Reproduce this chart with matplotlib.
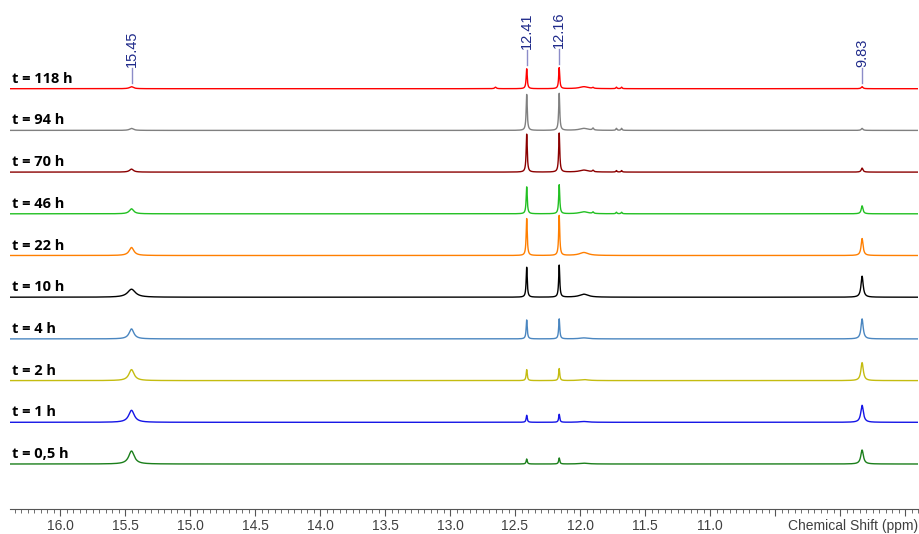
import numpy as np
import matplotlib
matplotlib.use("Agg")
import matplotlib.pyplot as plt
from matplotlib.ticker import MultipleLocator, FixedLocator, FixedFormatter

# traces, bottom to top
labels = ["t = 0,5 h", "t = 1 h", "t = 2 h", "t = 4 h", "t = 10 h",
          "t = 22 h", "t = 46 h", "t = 70 h", "t = 94 h", "t = 118 h"]
colors = ["#1b7f1b", "#1414e6", "#c4bc10", "#4a86c0", "#000000",
          "#ff7f00", "#22c022", "#8b0000", "#808080", "#ff0000"]

# main peaks (ppm) and their intensities in each trace
peaks = [15.45, 12.41, 12.16, 9.83]
peak_labels = ["15.45", "12.41", "12.16", "9.83"]
h_1545 = [13, 12, 11, 10, 8, 8, 5, 3, 2, 2]
h_1241 = [5, 7, 11, 19, 30, 37, 27, 38, 36, 20]
h_1216 = [6, 8, 12, 20, 32, 40, 29, 39, 37, 21]
h_983 = [14, 17, 18, 20, 21, 17, 8, 4, 2, 2]
w_1545 = [0.026, 0.026, 0.024, 0.022, 0.036, 0.022, 0.020, 0.018, 0.018, 0.018]
w_1241 = [0.005] * 10
w_1216 = [0.005] * 10
w_983 = [0.012, 0.012, 0.011, 0.010, 0.010, 0.009, 0.008, 0.008, 0.008, 0.008]

# minor signals
minor_ppm = [12.65, 11.97, 11.90, 11.72, 11.68]
minor_w = [0.008, 0.040, 0.006, 0.005, 0.005]
m_1265 = [0, 0, 0, 0, 0, 0, 0, 0, 0, 1.5]
m_1197 = [0.8, 0.8, 1, 1, 3, 3, 2, 2, 2, 2]
m_1190 = [0, 0, 0, 0, 0, 0, 1.5, 1.5, 2, 1]
m_1172 = [0, 0, 0, 0, 0, 0, 1.5, 1.5, 2, 1.5]
m_1168 = [0, 0, 0, 0, 0, 0, 1.5, 1.5, 2, 1.5]

ppm = np.linspace(16.4, 9.4, 12000)


def lorentz(x0, h, w):
    return h / (1 + ((ppm - x0) / w) ** 2)


fig = plt.figure(figsize=(9.2, 5.34), dpi=100)
ax = fig.add_axes([10 / 920, 25 / 534, 908 / 920, 509 / 534])
ax.set_xlim(16.0 + 50 / 130, 16.0 - 858 / 130)
ax.set_ylim(0, 509)

base0 = 45
gap = 41.7
main_h = [h_1545, h_1241, h_1216, h_983]
main_w = [w_1545, w_1241, w_1216, w_983]
minor_h = [m_1265, m_1197, m_1190, m_1172, m_1168]

for i in range(len(labels)):
    y = np.zeros_like(ppm)
    for p, h, w in zip(peaks, main_h, main_w):
        y += lorentz(p, h[i], w[i])
    for p, h, w in zip(minor_ppm, minor_h, minor_w):
        y += lorentz(p, h[i], w)
    b = base0 + i * gap
    ax.plot(ppm, y + b, color=colors[i], lw=1.0)
    ax.text(16.0 + 48 / 130, b + 3, labels[i], fontsize=10.5, fontweight="bold",
            family="Open Sans", color="black", ha="left", va="bottom")

# peak picking labels over top trace
top = len(labels) - 1
btop = base0 + top * gap
for p, lab, h in zip(peaks, peak_labels, main_h):
    ytop = btop + h[top] + 4
    ax.plot([p, p], [ytop, ytop + 15], color="#8c8cc8", lw=1, clip_on=False)
    ax.text(p, ytop + 16, lab, rotation=90, ha="center", va="bottom",
            fontsize=10.5, family="Liberation Sans", color="#1f2a8a")

for s in ["top", "left", "right"]:
    ax.spines[s].set_visible(False)
ax.spines["bottom"].set_color("#555555")
ax.set_yticks([])
majors = [16.0, 15.5, 15.0, 14.5, 14.0, 13.5, 13.0, 12.5, 12.0, 11.5, 11.0, 10.5, 10.0, 9.5]
ax.xaxis.set_major_locator(FixedLocator(majors))
ax.xaxis.set_major_formatter(FixedFormatter(
    ["%.1f" % m if m >= 11.0 else "" for m in majors]))
ax.xaxis.set_minor_locator(MultipleLocator(0.05))
ax.tick_params(axis="x", which="major", length=5, color="#555555",
               labelsize=10, labelcolor="#404040", pad=2)
ax.tick_params(axis="x", which="minor", length=3, color="#555555")
for t in ax.get_xticklabels():
    t.set_family("Liberation Sans")
ax.text(1.0, -0.019, "Chemical Shift (ppm)", transform=ax.transAxes,
        ha="right", va="top", fontsize=10, family="Liberation Sans",
        color="#404040")

fig.savefig("out.png", dpi=100)
